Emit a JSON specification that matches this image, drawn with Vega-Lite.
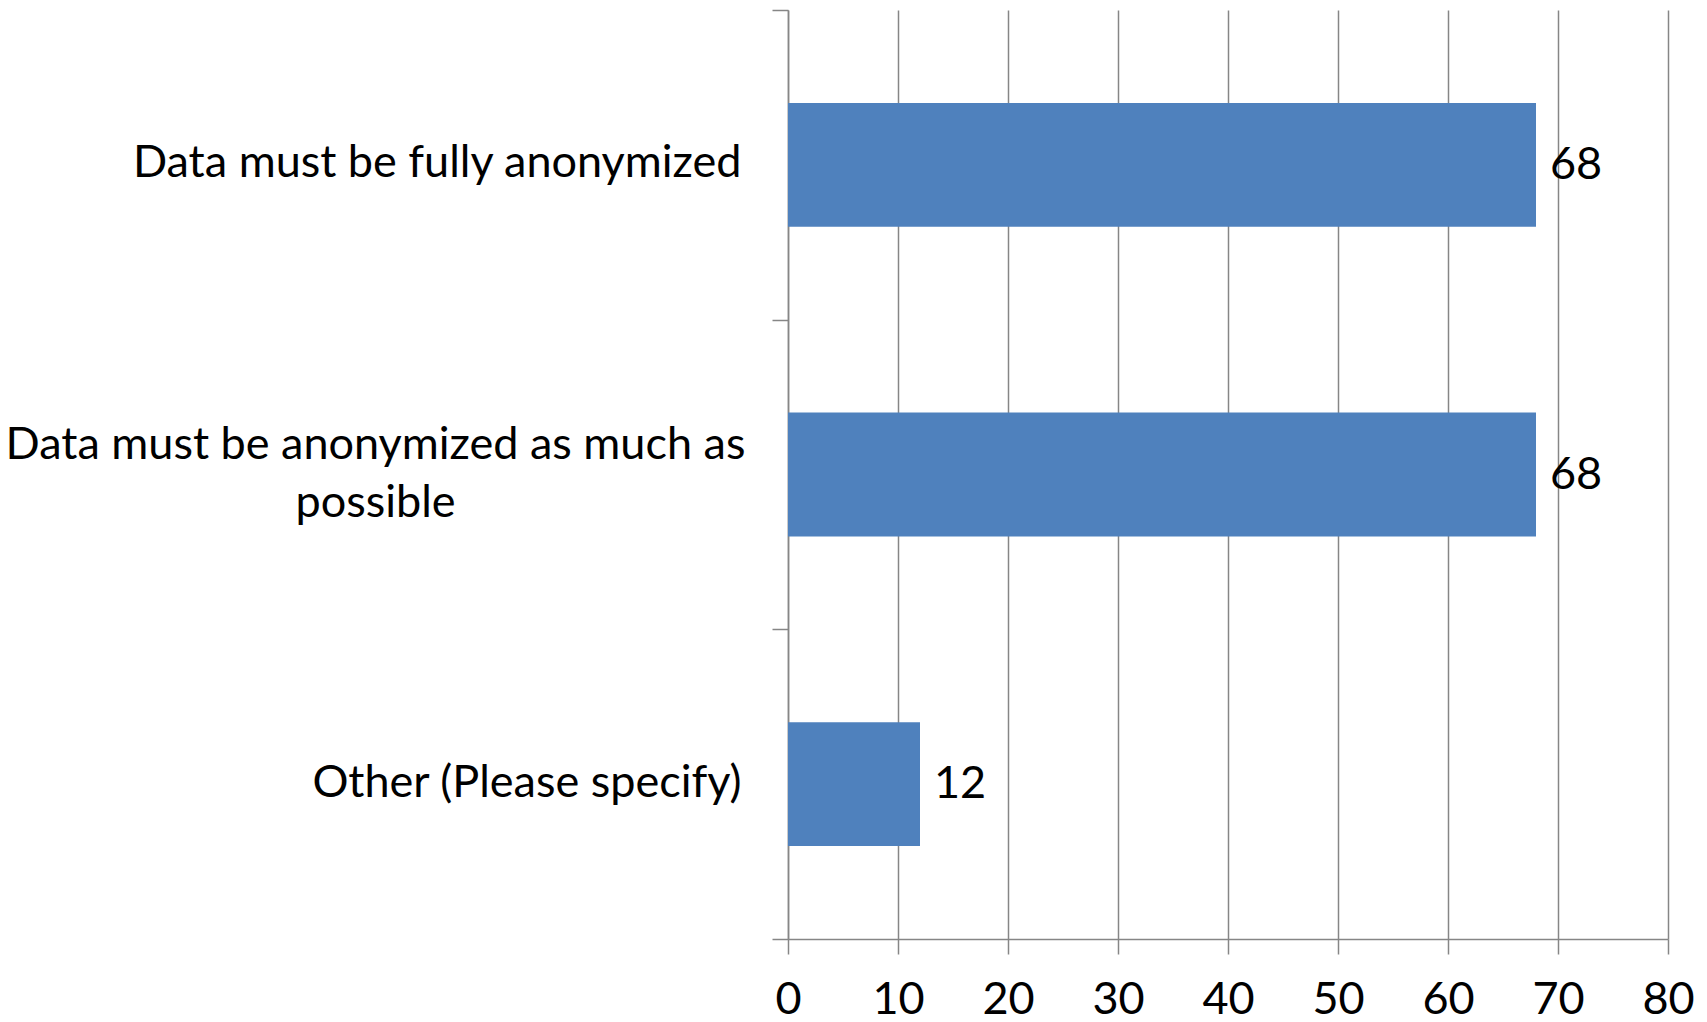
{
  "$schema": "https://vega.github.io/schema/vega-lite/v6.json",
  "width": 880,
  "height": 929,
  "autosize": {"type": "none"},
  "padding": {"left": 788, "top": 10, "right": 39, "bottom": 83},
  "background": "white",
  "data": {
    "values": [
      {"category": "Data must be fully anonymized", "count": 68},
      {"category": "Data must be anonymized as much as possible", "count": 68},
      {"category": "Other (Please specify)", "count": 12}
    ]
  },
  "encoding": {
    "y": {
      "field": "category",
      "type": "nominal",
      "sort": null,
      "title": null,
      "scale": {"paddingInner": 0, "paddingOuter": 0},
      "axis": {
        "tickBand": "extent",
        "tickSize": 16,
        "tickColor": "#868686",
        "tickWidth": 1.5,
        "domainColor": "#868686",
        "domainWidth": 1.5,
        "labelFont": "Lato",
        "labelFontSize": 45,
        "labelColor": "black",
        "labelLimit": 800,
        "labelLineHeight": 58,
        "labelBaseline": "middle",
        "labelExpr": "datum.value === 'Data must be anonymized as much as possible' ? ['Data must be anonymized as much as', 'possible'] : datum.value",
        "labelAlign": {"condition": {"test": "datum.value === 'Data must be anonymized as much as possible'", "value": "center"}, "value": "right"},
        "labelPadding": {"condition": {"test": "datum.value === 'Data must be anonymized as much as possible'", "value": 397}, "value": 31},
        "labelOffset": {"condition": {"test": "datum.value === 'Data must be anonymized as much as possible'", "value": -30}, "value": -2}
      }
    },
    "x": {
      "field": "count",
      "type": "quantitative",
      "title": null,
      "scale": {"domain": [0, 80], "nice": false},
      "axis": {
        "values": [0, 10, 20, 30, 40, 50, 60, 70, 80],
        "grid": true,
        "gridColor": "#868686",
        "gridWidth": 1.5,
        "tickSize": 15,
        "tickColor": "#868686",
        "tickWidth": 1.5,
        "domainColor": "#868686",
        "domainWidth": 1.5,
        "labelFont": "Lato",
        "labelFontSize": 45,
        "labelColor": "black",
        "labelPadding": 23,
        "labelFlush": false
      }
    }
  },
  "layer": [
    {"mark": {"type": "bar", "color": "#4F81BD", "height": {"band": 0.4}}},
    {
      "mark": {"type": "text", "align": "left", "baseline": "middle", "dx": 14, "font": "Lato", "fontSize": 45, "color": "black"},
      "encoding": {"text": {"field": "count", "type": "quantitative"}}
    }
  ],
  "config": {"view": {"stroke": null}}
}
